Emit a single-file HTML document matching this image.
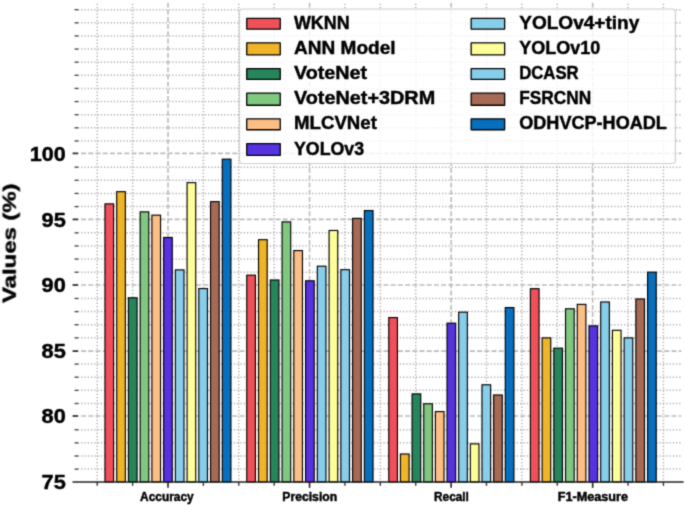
<!DOCTYPE html>
<html><head><meta charset="utf-8"><title>Chart</title>
<style>
html,body{margin:0;padding:0;background:#fff;}
body{width:685px;height:505px;overflow:hidden;}
svg{display:block;}
text{font-family:"Liberation Sans",sans-serif;font-weight:bold;fill:#000;stroke:#000;stroke-width:0.45px;}
</style></head><body>
<svg width="685" height="505" viewBox="0 0 685 505">
<defs><filter id="soft" filterUnits="userSpaceOnUse" x="0" y="0" width="685" height="505" color-interpolation-filters="sRGB"><feConvolveMatrix order="3" kernelMatrix="0.02560 0.10880 0.02560 0.10880 0.46240 0.10880 0.02560 0.10880 0.02560" edgeMode="duplicate" preserveAlpha="false"/></filter>
<filter id="soft2" filterUnits="userSpaceOnUse" x="0" y="0" width="685" height="505" color-interpolation-filters="sRGB"><feConvolveMatrix order="3" kernelMatrix="0.04840 0.12320 0.04840 0.12320 0.31360 0.12320 0.04840 0.12320 0.04840" edgeMode="duplicate" preserveAlpha="false"/></filter>
<clipPath id="axclip"><rect x="78.5" y="2.5" width="603.0" height="479.45"/></clipPath></defs>
<rect x="0" y="0" width="685" height="505" fill="#fff"/>
<g filter="url(#soft)">
<g><g clip-path="url(#axclip)" fill="none">
<line x1="78.5" x2="681.5" y1="469.12" y2="469.12" stroke="#b0b0b0" stroke-width="1.5" stroke-dasharray="1.25 2.0" stroke-dashoffset="-2.75"/>
<line x1="78.5" x2="681.5" y1="456.00" y2="456.00" stroke="#b0b0b0" stroke-width="1.5" stroke-dasharray="1.25 2.0" stroke-dashoffset="-2.75"/>
<line x1="78.5" x2="681.5" y1="442.87" y2="442.87" stroke="#b0b0b0" stroke-width="1.5" stroke-dasharray="1.25 2.0" stroke-dashoffset="-2.75"/>
<line x1="78.5" x2="681.5" y1="429.74" y2="429.74" stroke="#b0b0b0" stroke-width="1.5" stroke-dasharray="1.25 2.0" stroke-dashoffset="-2.75"/>
<line x1="78.5" x2="681.5" y1="403.49" y2="403.49" stroke="#b0b0b0" stroke-width="1.5" stroke-dasharray="1.25 2.0" stroke-dashoffset="-2.75"/>
<line x1="78.5" x2="681.5" y1="390.36" y2="390.36" stroke="#b0b0b0" stroke-width="1.5" stroke-dasharray="1.25 2.0" stroke-dashoffset="-2.75"/>
<line x1="78.5" x2="681.5" y1="377.23" y2="377.23" stroke="#b0b0b0" stroke-width="1.5" stroke-dasharray="1.25 2.0" stroke-dashoffset="-2.75"/>
<line x1="78.5" x2="681.5" y1="364.11" y2="364.11" stroke="#b0b0b0" stroke-width="1.5" stroke-dasharray="1.25 2.0" stroke-dashoffset="-2.75"/>
<line x1="78.5" x2="681.5" y1="337.85" y2="337.85" stroke="#b0b0b0" stroke-width="1.5" stroke-dasharray="1.25 2.0" stroke-dashoffset="-2.75"/>
<line x1="78.5" x2="681.5" y1="324.73" y2="324.73" stroke="#b0b0b0" stroke-width="1.5" stroke-dasharray="1.25 2.0" stroke-dashoffset="-2.75"/>
<line x1="78.5" x2="681.5" y1="311.60" y2="311.60" stroke="#b0b0b0" stroke-width="1.5" stroke-dasharray="1.25 2.0" stroke-dashoffset="-2.75"/>
<line x1="78.5" x2="681.5" y1="298.47" y2="298.47" stroke="#b0b0b0" stroke-width="1.5" stroke-dasharray="1.25 2.0" stroke-dashoffset="-2.75"/>
<line x1="78.5" x2="681.5" y1="272.22" y2="272.22" stroke="#b0b0b0" stroke-width="1.5" stroke-dasharray="1.25 2.0" stroke-dashoffset="-2.75"/>
<line x1="78.5" x2="681.5" y1="259.09" y2="259.09" stroke="#b0b0b0" stroke-width="1.5" stroke-dasharray="1.25 2.0" stroke-dashoffset="-2.75"/>
<line x1="78.5" x2="681.5" y1="245.96" y2="245.96" stroke="#b0b0b0" stroke-width="1.5" stroke-dasharray="1.25 2.0" stroke-dashoffset="-2.75"/>
<line x1="78.5" x2="681.5" y1="232.84" y2="232.84" stroke="#b0b0b0" stroke-width="1.5" stroke-dasharray="1.25 2.0" stroke-dashoffset="-2.75"/>
<line x1="78.5" x2="681.5" y1="206.58" y2="206.58" stroke="#b0b0b0" stroke-width="1.5" stroke-dasharray="1.25 2.0" stroke-dashoffset="-2.75"/>
<line x1="78.5" x2="681.5" y1="193.46" y2="193.46" stroke="#b0b0b0" stroke-width="1.5" stroke-dasharray="1.25 2.0" stroke-dashoffset="-2.75"/>
<line x1="78.5" x2="681.5" y1="180.33" y2="180.33" stroke="#b0b0b0" stroke-width="1.5" stroke-dasharray="1.25 2.0" stroke-dashoffset="-2.75"/>
<line x1="78.5" x2="681.5" y1="167.20" y2="167.20" stroke="#b0b0b0" stroke-width="1.5" stroke-dasharray="1.25 2.0" stroke-dashoffset="-2.75"/>
<line x1="78.5" x2="681.5" y1="140.95" y2="140.95" stroke="#b0b0b0" stroke-width="1.5" stroke-dasharray="1.25 2.0" stroke-dashoffset="-2.75"/>
<line x1="78.5" x2="681.5" y1="127.82" y2="127.82" stroke="#b0b0b0" stroke-width="1.5" stroke-dasharray="1.25 2.0" stroke-dashoffset="-2.75"/>
<line x1="78.5" x2="681.5" y1="114.69" y2="114.69" stroke="#b0b0b0" stroke-width="1.5" stroke-dasharray="1.25 2.0" stroke-dashoffset="-2.75"/>
<line x1="78.5" x2="681.5" y1="101.57" y2="101.57" stroke="#b0b0b0" stroke-width="1.5" stroke-dasharray="1.25 2.0" stroke-dashoffset="-2.75"/>
<line x1="78.5" x2="681.5" y1="88.44" y2="88.44" stroke="#b0b0b0" stroke-width="1.5" stroke-dasharray="1.25 2.0" stroke-dashoffset="-2.75"/>
<line x1="78.5" x2="681.5" y1="75.31" y2="75.31" stroke="#b0b0b0" stroke-width="1.5" stroke-dasharray="1.25 2.0" stroke-dashoffset="-2.75"/>
<line x1="78.5" x2="681.5" y1="62.19" y2="62.19" stroke="#b0b0b0" stroke-width="1.5" stroke-dasharray="1.25 2.0" stroke-dashoffset="-2.75"/>
<line x1="78.5" x2="681.5" y1="49.06" y2="49.06" stroke="#b0b0b0" stroke-width="1.5" stroke-dasharray="1.25 2.0" stroke-dashoffset="-2.75"/>
<line x1="78.5" x2="681.5" y1="35.93" y2="35.93" stroke="#b0b0b0" stroke-width="1.5" stroke-dasharray="1.25 2.0" stroke-dashoffset="-2.75"/>
<line x1="78.5" x2="681.5" y1="22.80" y2="22.80" stroke="#b0b0b0" stroke-width="1.5" stroke-dasharray="1.25 2.0" stroke-dashoffset="-2.75"/>
<line x1="78.5" x2="681.5" y1="9.68" y2="9.68" stroke="#b0b0b0" stroke-width="1.5" stroke-dasharray="1.25 2.0" stroke-dashoffset="-2.75"/>
<line x1="97.22" x2="97.22" y1="2.5" y2="481.95" stroke="#b0b0b0" stroke-width="1.5" stroke-dasharray="1.25 2.0" stroke-dashoffset="-1.2"/>
<line x1="132.61" x2="132.61" y1="2.5" y2="481.95" stroke="#b0b0b0" stroke-width="1.5" stroke-dasharray="1.25 2.0" stroke-dashoffset="-1.2"/>
<line x1="203.39" x2="203.39" y1="2.5" y2="481.95" stroke="#b0b0b0" stroke-width="1.5" stroke-dasharray="1.25 2.0" stroke-dashoffset="-1.2"/>
<line x1="238.78" x2="238.78" y1="2.5" y2="481.95" stroke="#b0b0b0" stroke-width="1.5" stroke-dasharray="1.25 2.0" stroke-dashoffset="-1.2"/>
<line x1="274.16" x2="274.16" y1="2.5" y2="481.95" stroke="#b0b0b0" stroke-width="1.5" stroke-dasharray="1.25 2.0" stroke-dashoffset="-1.2"/>
<line x1="344.94" x2="344.94" y1="2.5" y2="481.95" stroke="#b0b0b0" stroke-width="1.5" stroke-dasharray="1.25 2.0" stroke-dashoffset="-1.2"/>
<line x1="380.33" x2="380.33" y1="2.5" y2="481.95" stroke="#b0b0b0" stroke-width="1.5" stroke-dasharray="1.25 2.0" stroke-dashoffset="-1.2"/>
<line x1="415.71" x2="415.71" y1="2.5" y2="481.95" stroke="#b0b0b0" stroke-width="1.5" stroke-dasharray="1.25 2.0" stroke-dashoffset="-1.2"/>
<line x1="486.49" x2="486.49" y1="2.5" y2="481.95" stroke="#b0b0b0" stroke-width="1.5" stroke-dasharray="1.25 2.0" stroke-dashoffset="-1.2"/>
<line x1="521.88" x2="521.88" y1="2.5" y2="481.95" stroke="#b0b0b0" stroke-width="1.5" stroke-dasharray="1.25 2.0" stroke-dashoffset="-1.2"/>
<line x1="557.26" x2="557.26" y1="2.5" y2="481.95" stroke="#b0b0b0" stroke-width="1.5" stroke-dasharray="1.25 2.0" stroke-dashoffset="-1.2"/>
<line x1="628.04" x2="628.04" y1="2.5" y2="481.95" stroke="#b0b0b0" stroke-width="1.5" stroke-dasharray="1.25 2.0" stroke-dashoffset="-1.2"/>
<line x1="663.43" x2="663.43" y1="2.5" y2="481.95" stroke="#b0b0b0" stroke-width="1.5" stroke-dasharray="1.25 2.0" stroke-dashoffset="-1.2"/>
<line x1="78.5" x2="681.5" y1="416.00" y2="416.00" stroke="#bcbcbc" stroke-width="1.6" stroke-dasharray="5.0 2.2" stroke-dashoffset="-2.6"/>
<line x1="78.5" x2="681.5" y1="351.10" y2="351.10" stroke="#bcbcbc" stroke-width="1.6" stroke-dasharray="5.0 2.2" stroke-dashoffset="-2.6"/>
<line x1="78.5" x2="681.5" y1="285.00" y2="285.00" stroke="#bcbcbc" stroke-width="1.6" stroke-dasharray="5.0 2.2" stroke-dashoffset="-2.6"/>
<line x1="78.5" x2="681.5" y1="219.40" y2="219.40" stroke="#bcbcbc" stroke-width="1.6" stroke-dasharray="5.0 2.2" stroke-dashoffset="-2.6"/>
<line x1="78.5" x2="681.5" y1="153.40" y2="153.40" stroke="#bcbcbc" stroke-width="1.6" stroke-dasharray="5.0 2.2" stroke-dashoffset="-2.6"/>
<line x1="168.00" x2="168.00" y1="2.5" y2="481.95" stroke="#bcbcbc" stroke-width="1.6" stroke-dasharray="5.0 2.2"/>
<line x1="309.55" x2="309.55" y1="2.5" y2="481.95" stroke="#bcbcbc" stroke-width="1.6" stroke-dasharray="5.0 2.2"/>
<line x1="451.10" x2="451.10" y1="2.5" y2="481.95" stroke="#bcbcbc" stroke-width="1.6" stroke-dasharray="5.0 2.2"/>
<line x1="592.65" x2="592.65" y1="2.5" y2="481.95" stroke="#bcbcbc" stroke-width="1.6" stroke-dasharray="5.0 2.2"/>
</g></g>
<g stroke="#000" stroke-width="1.15" stroke-linejoin="miter">
<rect x="104.97" y="203.87" width="8.65" height="278.08" fill="#F0505A"/>
<rect x="116.70" y="191.67" width="8.65" height="290.27" fill="#F0B428"/>
<rect x="128.43" y="297.78" width="8.65" height="184.17" fill="#26855A"/>
<rect x="140.16" y="211.87" width="8.65" height="270.08" fill="#80C880"/>
<rect x="151.89" y="215.17" width="8.65" height="266.77" fill="#FDBE85"/>
<rect x="163.62" y="237.47" width="8.65" height="244.47" fill="#5632E0"/>
<rect x="175.35" y="269.88" width="8.65" height="212.07" fill="#87CEEB"/>
<rect x="187.08" y="182.67" width="8.65" height="299.27" fill="#FFFF99"/>
<rect x="198.81" y="288.57" width="8.65" height="193.38" fill="#87CEEB"/>
<rect x="210.54" y="201.67" width="8.65" height="280.27" fill="#A66A55"/>
<rect x="222.27" y="159.17" width="8.65" height="322.77" fill="#0670BE"/>
<rect x="246.77" y="275.18" width="8.65" height="206.77" fill="#F0505A"/>
<rect x="258.53" y="239.67" width="8.65" height="242.28" fill="#F0B428"/>
<rect x="270.30" y="279.98" width="8.65" height="201.97" fill="#26855A"/>
<rect x="282.06" y="221.87" width="8.65" height="260.08" fill="#80C880"/>
<rect x="293.81" y="250.57" width="8.65" height="231.38" fill="#FDBE85"/>
<rect x="305.57" y="280.78" width="8.65" height="201.17" fill="#5632E0"/>
<rect x="317.33" y="266.18" width="8.65" height="215.77" fill="#87CEEB"/>
<rect x="329.09" y="230.47" width="8.65" height="251.47" fill="#FFFF99"/>
<rect x="340.85" y="269.68" width="8.65" height="212.27" fill="#87CEEB"/>
<rect x="352.62" y="218.37" width="8.65" height="263.58" fill="#A66A55"/>
<rect x="364.38" y="210.57" width="8.65" height="271.38" fill="#0670BE"/>
<rect x="388.78" y="317.57" width="8.65" height="164.38" fill="#F0505A"/>
<rect x="400.43" y="453.98" width="8.65" height="27.97" fill="#F0B428"/>
<rect x="412.08" y="393.88" width="8.65" height="88.07" fill="#26855A"/>
<rect x="423.73" y="403.78" width="8.65" height="78.17" fill="#80C880"/>
<rect x="435.38" y="411.57" width="8.65" height="70.38" fill="#FDBE85"/>
<rect x="447.03" y="323.18" width="8.65" height="158.77" fill="#5632E0"/>
<rect x="458.68" y="312.18" width="8.65" height="169.77" fill="#87CEEB"/>
<rect x="470.33" y="443.88" width="8.65" height="38.07" fill="#FFFF99"/>
<rect x="481.98" y="384.78" width="8.65" height="97.17" fill="#87CEEB"/>
<rect x="493.63" y="394.98" width="8.65" height="86.97" fill="#A66A55"/>
<rect x="505.28" y="307.57" width="8.65" height="174.38" fill="#0670BE"/>
<rect x="530.38" y="288.68" width="8.65" height="193.27" fill="#F0505A"/>
<rect x="542.10" y="337.88" width="8.65" height="144.07" fill="#F0B428"/>
<rect x="553.82" y="348.18" width="8.65" height="133.77" fill="#26855A"/>
<rect x="565.53" y="308.78" width="8.65" height="173.17" fill="#80C880"/>
<rect x="577.25" y="304.38" width="8.65" height="177.57" fill="#FDBE85"/>
<rect x="588.98" y="325.88" width="8.65" height="156.07" fill="#5632E0"/>
<rect x="600.70" y="301.98" width="8.65" height="179.97" fill="#87CEEB"/>
<rect x="612.42" y="330.28" width="8.65" height="151.67" fill="#FFFF99"/>
<rect x="624.13" y="337.88" width="8.65" height="144.07" fill="#87CEEB"/>
<rect x="635.86" y="298.98" width="8.65" height="182.97" fill="#A66A55"/>
<rect x="647.58" y="272.18" width="8.65" height="209.77" fill="#0670BE"/>
</g>
<g stroke="#222" fill="none">
<line x1="72.5" x2="683.6" y1="481.95" y2="481.95" stroke-width="1.5"/>
<line x1="72.6" x2="78.2" y1="416.00" y2="416.00" stroke-width="1.8" stroke="#333"/>
<line x1="72.6" x2="78.2" y1="351.10" y2="351.10" stroke-width="1.8" stroke="#333"/>
<line x1="72.6" x2="78.2" y1="285.00" y2="285.00" stroke-width="1.8" stroke="#333"/>
<line x1="72.6" x2="78.2" y1="219.40" y2="219.40" stroke-width="1.8" stroke="#333"/>
<line x1="72.6" x2="78.2" y1="153.40" y2="153.40" stroke-width="1.8" stroke="#333"/>
<line x1="74.6" x2="78.5" y1="469.12" y2="469.12" stroke-width="1.4" stroke="#4a4a4a"/>
<line x1="74.6" x2="78.5" y1="456.00" y2="456.00" stroke-width="1.4" stroke="#4a4a4a"/>
<line x1="74.6" x2="78.5" y1="442.87" y2="442.87" stroke-width="1.4" stroke="#4a4a4a"/>
<line x1="74.6" x2="78.5" y1="429.74" y2="429.74" stroke-width="1.4" stroke="#4a4a4a"/>
<line x1="74.6" x2="78.5" y1="403.49" y2="403.49" stroke-width="1.4" stroke="#4a4a4a"/>
<line x1="74.6" x2="78.5" y1="390.36" y2="390.36" stroke-width="1.4" stroke="#4a4a4a"/>
<line x1="74.6" x2="78.5" y1="377.23" y2="377.23" stroke-width="1.4" stroke="#4a4a4a"/>
<line x1="74.6" x2="78.5" y1="364.11" y2="364.11" stroke-width="1.4" stroke="#4a4a4a"/>
<line x1="74.6" x2="78.5" y1="337.85" y2="337.85" stroke-width="1.4" stroke="#4a4a4a"/>
<line x1="74.6" x2="78.5" y1="324.73" y2="324.73" stroke-width="1.4" stroke="#4a4a4a"/>
<line x1="74.6" x2="78.5" y1="311.60" y2="311.60" stroke-width="1.4" stroke="#4a4a4a"/>
<line x1="74.6" x2="78.5" y1="298.47" y2="298.47" stroke-width="1.4" stroke="#4a4a4a"/>
<line x1="74.6" x2="78.5" y1="272.22" y2="272.22" stroke-width="1.4" stroke="#4a4a4a"/>
<line x1="74.6" x2="78.5" y1="259.09" y2="259.09" stroke-width="1.4" stroke="#4a4a4a"/>
<line x1="74.6" x2="78.5" y1="245.96" y2="245.96" stroke-width="1.4" stroke="#4a4a4a"/>
<line x1="74.6" x2="78.5" y1="232.84" y2="232.84" stroke-width="1.4" stroke="#4a4a4a"/>
<line x1="74.6" x2="78.5" y1="206.58" y2="206.58" stroke-width="1.4" stroke="#4a4a4a"/>
<line x1="74.6" x2="78.5" y1="193.46" y2="193.46" stroke-width="1.4" stroke="#4a4a4a"/>
<line x1="74.6" x2="78.5" y1="180.33" y2="180.33" stroke-width="1.4" stroke="#4a4a4a"/>
<line x1="74.6" x2="78.5" y1="167.20" y2="167.20" stroke-width="1.4" stroke="#4a4a4a"/>
<line x1="74.6" x2="78.5" y1="140.95" y2="140.95" stroke-width="1.4" stroke="#4a4a4a"/>
<line x1="74.6" x2="78.5" y1="127.82" y2="127.82" stroke-width="1.4" stroke="#4a4a4a"/>
<line x1="74.6" x2="78.5" y1="114.69" y2="114.69" stroke-width="1.4" stroke="#4a4a4a"/>
<line x1="74.6" x2="78.5" y1="101.57" y2="101.57" stroke-width="1.4" stroke="#4a4a4a"/>
<line x1="74.6" x2="78.5" y1="88.44" y2="88.44" stroke-width="1.4" stroke="#4a4a4a"/>
<line x1="74.6" x2="78.5" y1="75.31" y2="75.31" stroke-width="1.4" stroke="#4a4a4a"/>
<line x1="74.6" x2="78.5" y1="62.19" y2="62.19" stroke-width="1.4" stroke="#4a4a4a"/>
<line x1="74.6" x2="78.5" y1="49.06" y2="49.06" stroke-width="1.4" stroke="#4a4a4a"/>
<line x1="74.6" x2="78.5" y1="35.93" y2="35.93" stroke-width="1.4" stroke="#4a4a4a"/>
<line x1="74.6" x2="78.5" y1="22.80" y2="22.80" stroke-width="1.4" stroke="#4a4a4a"/>
<line x1="74.6" x2="78.5" y1="9.68" y2="9.68" stroke-width="1.4" stroke="#4a4a4a"/>
<line x1="168.00" x2="168.00" y1="481.95" y2="487.84999999999997" stroke-width="1.6"/>
<line x1="309.55" x2="309.55" y1="481.95" y2="487.84999999999997" stroke-width="1.6"/>
<line x1="451.10" x2="451.10" y1="481.95" y2="487.84999999999997" stroke-width="1.6"/>
<line x1="592.65" x2="592.65" y1="481.95" y2="487.84999999999997" stroke-width="1.6"/>
<line x1="97.22" x2="97.22" y1="481.95" y2="485.84999999999997" stroke-width="1.4" stroke="#333"/>
<line x1="132.61" x2="132.61" y1="481.95" y2="485.84999999999997" stroke-width="1.4" stroke="#333"/>
<line x1="203.39" x2="203.39" y1="481.95" y2="485.84999999999997" stroke-width="1.4" stroke="#333"/>
<line x1="238.78" x2="238.78" y1="481.95" y2="485.84999999999997" stroke-width="1.4" stroke="#333"/>
<line x1="274.16" x2="274.16" y1="481.95" y2="485.84999999999997" stroke-width="1.4" stroke="#333"/>
<line x1="344.94" x2="344.94" y1="481.95" y2="485.84999999999997" stroke-width="1.4" stroke="#333"/>
<line x1="380.33" x2="380.33" y1="481.95" y2="485.84999999999997" stroke-width="1.4" stroke="#333"/>
<line x1="415.71" x2="415.71" y1="481.95" y2="485.84999999999997" stroke-width="1.4" stroke="#333"/>
<line x1="486.49" x2="486.49" y1="481.95" y2="485.84999999999997" stroke-width="1.4" stroke="#333"/>
<line x1="521.88" x2="521.88" y1="481.95" y2="485.84999999999997" stroke-width="1.4" stroke="#333"/>
<line x1="557.26" x2="557.26" y1="481.95" y2="485.84999999999997" stroke-width="1.4" stroke="#333"/>
<line x1="628.04" x2="628.04" y1="481.95" y2="485.84999999999997" stroke-width="1.4" stroke="#333"/>
<line x1="663.43" x2="663.43" y1="481.95" y2="485.84999999999997" stroke-width="1.4" stroke="#333"/>
</g>
<text x="65.8" y="489.05" font-size="20.0" text-anchor="end" textLength="24.2" lengthAdjust="spacingAndGlyphs">75</text>
<text x="65.8" y="423.10" font-size="20.0" text-anchor="end" textLength="24.2" lengthAdjust="spacingAndGlyphs">80</text>
<text x="65.8" y="358.20" font-size="20.0" text-anchor="end" textLength="24.2" lengthAdjust="spacingAndGlyphs">85</text>
<text x="65.8" y="292.10" font-size="20.0" text-anchor="end" textLength="24.2" lengthAdjust="spacingAndGlyphs">90</text>
<text x="65.8" y="226.50" font-size="20.0" text-anchor="end" textLength="24.2" lengthAdjust="spacingAndGlyphs">95</text>
<text x="65.8" y="160.50" font-size="20.0" text-anchor="end" textLength="36.0" lengthAdjust="spacingAndGlyphs">100</text>
<text x="140.1" y="501.4" font-size="12.1" textLength="53.6" lengthAdjust="spacingAndGlyphs">Accuracy</text>
<text x="282.3" y="501.4" font-size="12.1" textLength="54.9" lengthAdjust="spacingAndGlyphs">Precision</text>
<text x="434.0" y="501.4" font-size="12.1" textLength="34.9" lengthAdjust="spacingAndGlyphs">Recall</text>
<text x="557.8" y="501.4" font-size="12.1" textLength="70.2" lengthAdjust="spacingAndGlyphs">F1-Measure</text>
<text transform="translate(15.7 302.9) rotate(-90)" font-size="18.8" textLength="119.5" lengthAdjust="spacingAndGlyphs">Values (%)</text>
<rect x="239.5" y="9.0" width="435.9" height="154.5" rx="3.2" ry="3.2" fill="#fff" fill-opacity="0.82" stroke="#cfcfcf" stroke-width="1.2"/>
<rect x="246.75" y="18.45" width="33.50" height="10.60" fill="#F0505A" stroke="#000" stroke-width="1.3" stroke-linejoin="round"/>
<text x="294.0" y="28.50" font-size="19.1" textLength="55.6" lengthAdjust="spacingAndGlyphs">WKNN</text>
<rect x="246.75" y="42.85" width="33.50" height="12.00" fill="#F0B428" stroke="#000" stroke-width="1.3" stroke-linejoin="round"/>
<text x="294.0" y="53.60" font-size="19.1" textLength="101.5" lengthAdjust="spacingAndGlyphs">ANN Model</text>
<rect x="246.75" y="68.65" width="33.50" height="10.80" fill="#26855A" stroke="#000" stroke-width="1.3" stroke-linejoin="round"/>
<text x="294.0" y="79.00" font-size="19.1" textLength="73.2" lengthAdjust="spacingAndGlyphs">VoteNet</text>
<rect x="246.75" y="93.15" width="33.50" height="12.10" fill="#80C880" stroke="#000" stroke-width="1.3" stroke-linejoin="round"/>
<text x="294.0" y="104.10" font-size="19.1" textLength="141.2" lengthAdjust="spacingAndGlyphs">VoteNet+3DRM</text>
<rect x="246.75" y="118.95" width="33.50" height="10.80" fill="#FDBE85" stroke="#000" stroke-width="1.3" stroke-linejoin="round"/>
<text x="294.0" y="129.30" font-size="19.1" textLength="82.9" lengthAdjust="spacingAndGlyphs">MLCVNet</text>
<rect x="246.75" y="143.55" width="33.50" height="11.80" fill="#5632E0" stroke="#000" stroke-width="1.3" stroke-linejoin="round"/>
<text x="294.0" y="154.60" font-size="19.1" textLength="70.1" lengthAdjust="spacingAndGlyphs">YOLOv3</text>
<rect x="471.15" y="18.45" width="33.50" height="10.60" fill="#87CEEB" stroke="#000" stroke-width="1.3" stroke-linejoin="round"/>
<text x="519.2" y="28.50" font-size="19.1" textLength="120.1" lengthAdjust="spacingAndGlyphs">YOLOv4+tiny</text>
<rect x="471.15" y="42.85" width="33.50" height="12.00" fill="#FFFF99" stroke="#000" stroke-width="1.3" stroke-linejoin="round"/>
<text x="519.2" y="53.60" font-size="19.1" textLength="81.1" lengthAdjust="spacingAndGlyphs">YOLOv10</text>
<rect x="471.15" y="68.65" width="33.50" height="10.80" fill="#87CEEB" stroke="#000" stroke-width="1.3" stroke-linejoin="round"/>
<text x="519.2" y="79.00" font-size="19.1" textLength="59.5" lengthAdjust="spacingAndGlyphs">DCASR</text>
<rect x="471.15" y="93.15" width="33.50" height="12.10" fill="#A66A55" stroke="#000" stroke-width="1.3" stroke-linejoin="round"/>
<text x="519.2" y="104.10" font-size="19.1" textLength="72.0" lengthAdjust="spacingAndGlyphs">FSRCNN</text>
<rect x="471.15" y="118.95" width="33.50" height="10.80" fill="#0670BE" stroke="#000" stroke-width="1.3" stroke-linejoin="round"/>
<text x="519.2" y="129.30" font-size="19.1" textLength="147.7" lengthAdjust="spacingAndGlyphs">ODHVCP-HOADL</text>
</g>
</svg>
</body></html>
